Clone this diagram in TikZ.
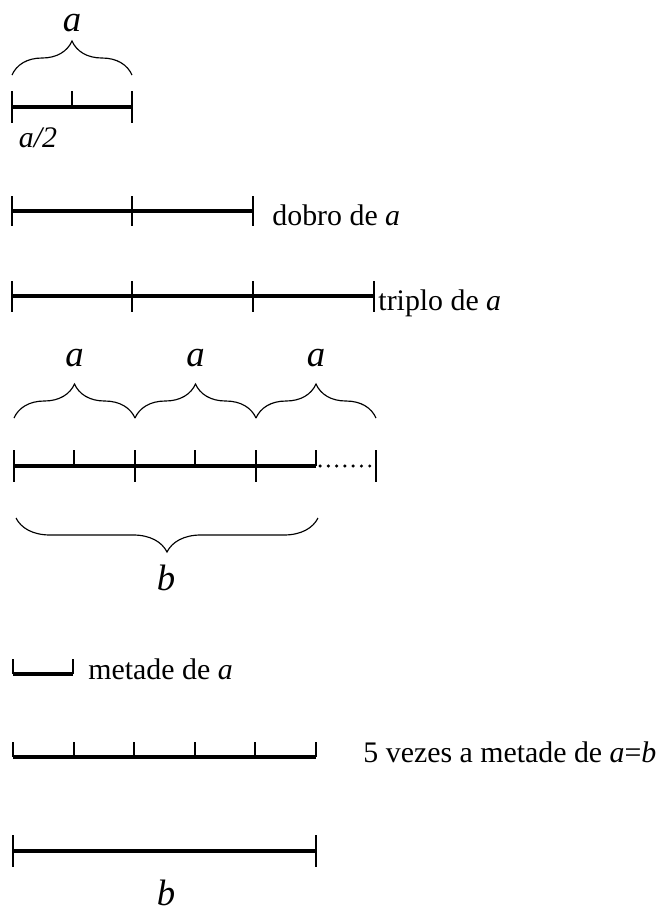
\documentclass[tikz,border=0pt]{standalone}
\usepackage{fontspec}
\setmainfont{Liberation Serif}
\usetikzlibrary{decorations.pathreplacing,calc}

\begin{document}
\begin{tikzpicture}[
    x=0.0153cm,y=-0.0153cm,
    seg/.style={line width=2.1pt},
    tick/.style={line width=0.8pt},
    brc/.style={decorate,decoration={brace,amplitude=0.52cm},line width=0.5pt},
    brcb/.style={decorate,decoration={brace,amplitude=0.52cm,mirror},line width=0.5pt},
    lbl/.style={inner sep=0pt,font=\fontsize{16}{19}\selectfont\itshape},
    txt/.style={anchor=base west,inner sep=0pt,font=\fontsize{13}{15}\selectfont}
]
    \useasboundingbox (0,0) rectangle (664,906);

    % segment a
    \coordinate (a0) at (12,107); \coordinate (a1) at (132,107);
    \draw[seg] (a0) -- (a1);
    \foreach \x in {12,132} \draw[tick] (\x,91) -- (\x,123);
    \draw[tick] (72,91) -- (72,107);
    \draw[brc] ($(a0)+(0,-32)$) -- ($(a1)+(0,-32)$);
    \node[lbl] (la) at (72,23) {a};
    \node[lbl,font=\fontsize{13}{15}\selectfont\itshape] (lhalf) at (38,138) {a/2};

    % dobro
    \coordinate (d0) at (12,211); \coordinate (d1) at (253,211);
    \draw[seg] (d0) -- (d1);
    \foreach \x in {12,132,253} \draw[tick] (\x,196) -- (\x,226);
    \node[txt] (ldobro) at (272,225) {dobro de \textit{a}};

    % triplo
    \coordinate (t0) at (12,296); \coordinate (t1) at (374,296);
    \draw[seg] (t0) -- (t1);
    \foreach \x in {12,132,253,374} \draw[tick] (\x,281) -- (\x,312);
    \node[txt] (ltriplo) at (378,310) {triplo de \textit{a}};

    % a + a + a and b
    \coordinate (c0) at (14,466); \coordinate (c1) at (316,466); \coordinate (c2) at (376,466);
    \draw[seg] (c0) -- (c1);
    \draw[line width=1.5pt,line cap=round,dash pattern=on 0pt off 3.6pt,dash phase=-1.8pt] (c1) -- (c2);
    \foreach \x in {14,135,256,376} \draw[tick] (\x,450) -- (\x,482);
    \foreach \x in {74,195,316} \draw[tick] (\x,450) -- (\x,466);
    \foreach \x/\y [count=\i] in {14/135,135/256,256/376} {
        \draw[brc] (\x,418) -- (\y,418);
        \node[lbl] (lc\i) at ({(\x+\y)/2},358) {a};
    }
    \draw[brcb] (16,518) -- (318,518);
    \node[lbl] (lb1) at (166,578) {b};

    % metade
    \coordinate (m0) at (13,674); \coordinate (m1) at (73,674);
    \draw[seg] (m0) -- (m1);
    \foreach \x in {13,73} \draw[tick] (\x,659) -- (\x,674);
    \node[txt] (lmetade) at (88,679) {metade de \textit{a}};

    % 5 vezes
    \coordinate (v0) at (13,757); \coordinate (v1) at (316,757);
    \draw[seg] (v0) -- (v1);
    \foreach \x in {13,73.6,134.2,194.8,255.4,316} \draw[tick] (\x,742) -- (\x,757);
    \node[txt] (lvezes) at (363,762) {5 vezes a metade de \textit{a}=\textit{b}};

    % b
    \coordinate (b0) at (13,851); \coordinate (b1) at (316,851);
    \draw[seg] (b0) -- (b1);
    \foreach \x in {13,316} \draw[tick] (\x,835) -- (\x,867);
    \node[lbl] (lb2) at (166,893) {b};
\end{tikzpicture}
\end{document}
